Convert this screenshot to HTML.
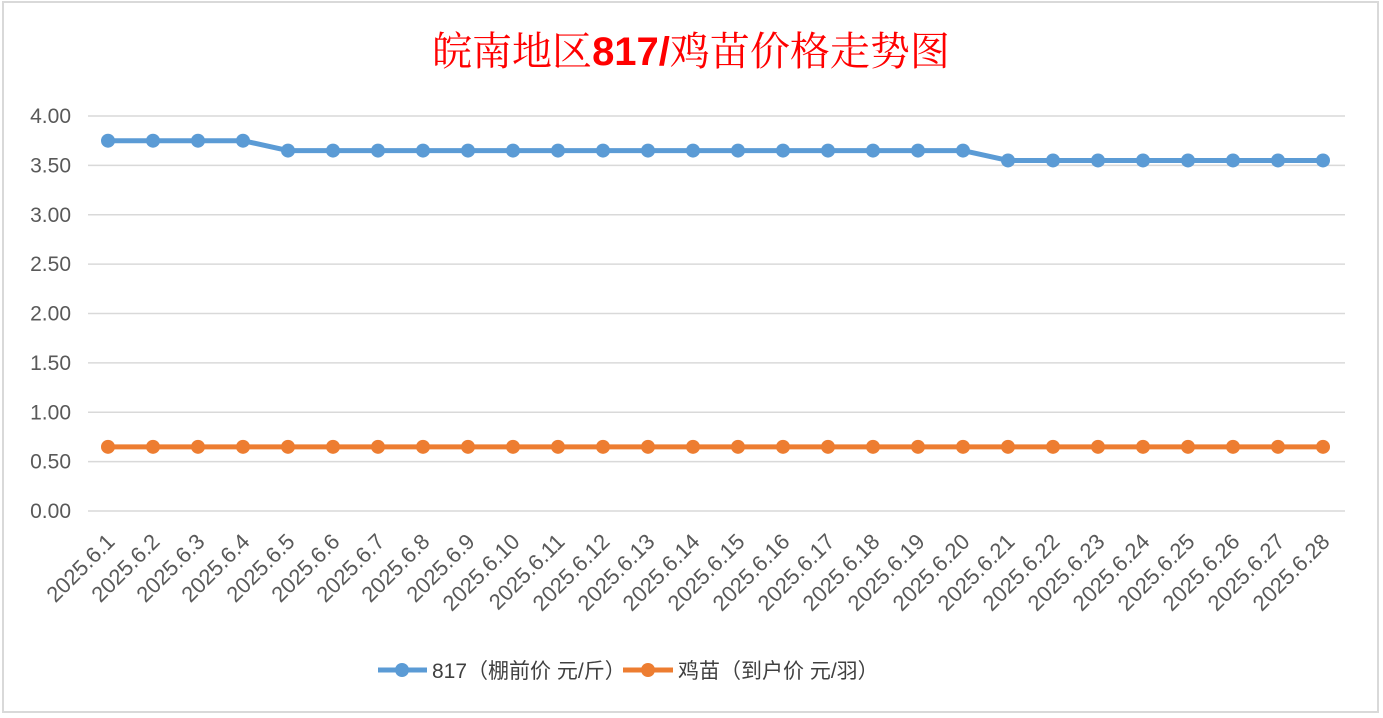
<!DOCTYPE html>
<html><head><meta charset="utf-8"><style>
html,body{margin:0;padding:0;background:#fff;width:1383px;height:718px;overflow:hidden}
svg{display:block;font-family:"Liberation Sans","Noto Sans CJK SC",sans-serif}
</style></head><body>
<svg id="chart" width="1383" height="718">
<rect x="3" y="2" width="1375" height="710" fill="#fff" stroke="#d9d9d9" stroke-width="2"/>
<text x="691" y="65" text-anchor="middle" font-size="40" fill="#ff0000" font-family="'Liberation Serif','Noto Serif CJK SC',serif">皖南地区<tspan font-weight="bold" font-family="'Liberation Sans',sans-serif">817/</tspan>鸡苗价格走势图</text>
<g id="grid"></g><g id="yl"></g><g id="xl"></g><g id="series"></g>
<g>
<line x1="378" y1="670" x2="427" y2="670" stroke="#5b9bd5" stroke-width="5"/>
<circle cx="402" cy="670" r="7" fill="#5b9bd5"/>
<text x="432" y="678" font-size="21" fill="#404040">817（棚前价 元/斤）</text>
<line x1="623" y1="670" x2="673" y2="670" stroke="#ed7d31" stroke-width="5"/>
<circle cx="648" cy="670" r="7" fill="#ed7d31"/>
<text x="678" y="678" font-size="21" fill="#404040">鸡苗（到户价 元/羽）</text>
</g>
</svg>
<script>
const categories=[];for(let d=1;d<=28;d++)categories.push('2025.6.'+d);
const s817=[3.75,3.75,3.75,3.75,3.65,3.65,3.65,3.65,3.65,3.65,3.65,3.65,3.65,3.65,3.65,3.65,3.65,3.65,3.65,3.65,3.55,3.55,3.55,3.55,3.55,3.55,3.55,3.55];
const sChick=[0.65,0.65,0.65,0.65,0.65,0.65,0.65,0.65,0.65,0.65,0.65,0.65,0.65,0.65,0.65,0.65,0.65,0.65,0.65,0.65,0.65,0.65,0.65,0.65,0.65,0.65,0.65,0.65];
const yTicks=[0,0.5,1,1.5,2,2.5,3,3.5,4];
const NS='http://www.w3.org/2000/svg';
const x=i=>108+i*45, y=v=>511-v*98.75;
function mk(t,a,p){const e=document.createElementNS(NS,t);for(const k in a)e.setAttribute(k,a[k]);p.appendChild(e);return e;}
const g=document.getElementById('grid'),yl=document.getElementById('yl'),xl=document.getElementById('xl'),sg=document.getElementById('series');
yTicks.forEach(v=>{
const l=mk('line',{x1:88,x2:1345,y1:y(v),y2:y(v),stroke:'#d9d9d9','stroke-width':1.5},g);


const t=mk('text',{x:71,y:y(v)+7,'text-anchor':'end','font-size':21,fill:'#595959'},yl);
t.textContent=v.toFixed(2);


});
categories.forEach((c,i)=>{
const t=mk('text',{x:0,y:0,'text-anchor':'end','font-size':22,fill:'#595959',transform:`translate(${x(i)+8},${543}) rotate(-45)`},xl);
t.textContent=c;


});
[[s817,'#5b9bd5','series-817'],[sChick,'#ed7d31','series-chick']].forEach(([d,col,n])=>{
const p=mk('polyline',{points:d.map((v,i)=>x(i)+','+y(v)).join(' '),fill:'none',stroke:col,'stroke-width':5,'stroke-linejoin':'round'},sg);


d.forEach((v,i)=>{
const c=mk('circle',{cx:x(i),cy:y(v),r:7,fill:col},sg);


});
});
</script>
</body></html>
